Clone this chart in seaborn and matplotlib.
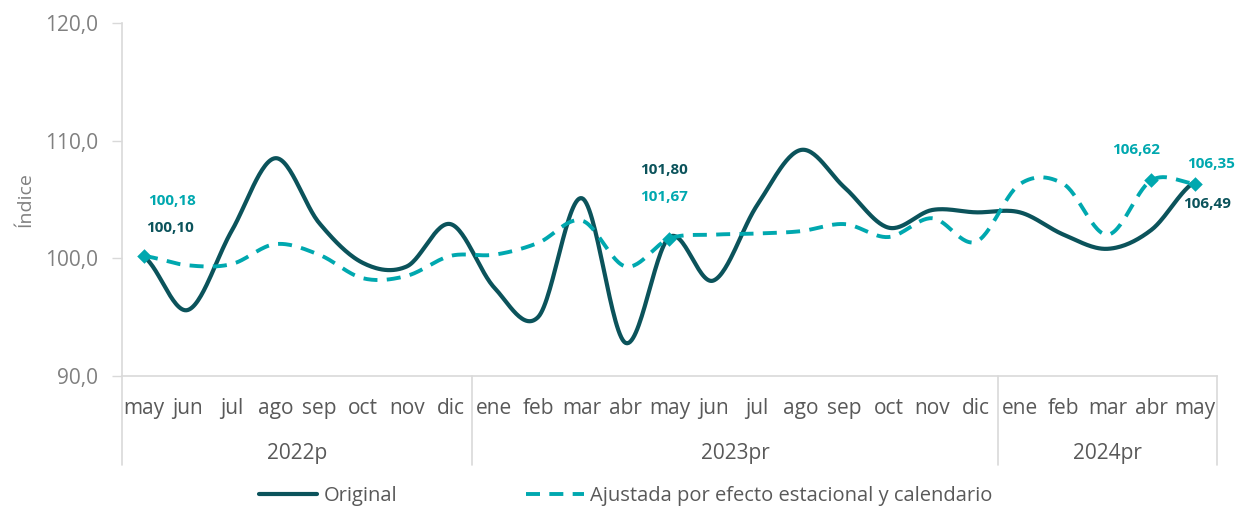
import numpy as np
import pandas as pd
import seaborn as sns
import matplotlib.pyplot as plt
from matplotlib.lines import Line2D
import matplotlib.transforms as mtransforms

# data
months = ['may', 'jun', 'jul', 'ago', 'sep', 'oct', 'nov', 'dic',
          'ene', 'feb', 'mar', 'abr', 'may', 'jun', 'jul', 'ago', 'sep', 'oct', 'nov', 'dic',
          'ene', 'feb', 'mar', 'abr', 'may']
years = ['2022p', '2023pr', '2024pr']
year_counts = [8, 12, 5]
original = [100.10, 95.6, 102.3, 108.5, 103.0, 99.6, 99.3, 102.9, 97.5, 95.0, 105.1, 92.8,
            101.80, 98.1, 104.5, 109.2, 106.0, 102.6, 104.1, 103.9, 103.9, 102.0, 100.8, 102.4, 106.49]
ajustada = [100.18, 99.4, 99.5, 101.2, 100.3, 98.3, 98.5, 100.2, 100.3, 101.3, 103.2, 99.3,
            101.67, 102.0, 102.1, 102.3, 102.9, 101.8, 103.4, 101.4, 106.3, 106.3, 102.0, 106.62, 106.35]
# points that carry a label / marker
label_idx = [0, 12, 23, 24]

DARK = '#0B535B'
TEAL = '#00A8AF'
GREY = '#595959'
LIGHTGREY = '#808080'
LINE = '#D9D9D9'


def smooth(y, n=30):
    # catmull-rom curve through the points, like excel's smoothed line
    y = np.asarray(y, dtype=float)
    p = np.concatenate([[y[0]], y, [y[-1]]])
    xs, ys = [], []
    for i in range(len(y) - 1):
        p0, p1, p2, p3 = p[i], p[i + 1], p[i + 2], p[i + 3]
        m1 = (p2 - p0) / 2
        m2 = (p3 - p1) / 2
        t = np.linspace(0, 1, n, endpoint=False)
        h00 = 2 * t**3 - 3 * t**2 + 1
        h10 = t**3 - 2 * t**2 + t
        h01 = -2 * t**3 + 3 * t**2
        h11 = t**3 - t**2
        xs.append(i + t)
        ys.append(h00 * p1 + h10 * m1 + h01 * p2 + h11 * m2)
    xs.append([len(y) - 1])
    ys.append([y[-1]])
    return np.concatenate(xs), np.concatenate(ys)


sns.set_theme(style='white')
plt.rcParams['font.family'] = ['Open Sans', 'DejaVu Sans']

fig = plt.figure(figsize=(12.39, 5.08), dpi=100)
ax = fig.add_axes([0.0985, 0.260, 0.8837, 0.695])

xo, yo = smooth(original)
xa, ya = smooth(ajustada)
sns.lineplot(x=xo, y=yo, ax=ax, color=DARK, lw=3.0, sort=False)
sns.lineplot(x=xa, y=ya, ax=ax, color=TEAL, lw=2.8, sort=False, dashes=False)
ax.lines[-1].set_dashes([3.6, 2.4])

x_pts = np.arange(len(months))
ax.scatter(x_pts[label_idx], np.array(ajustada)[label_idx], marker='D', s=55,
           color=TEAL, zorder=5, linewidths=0)

# data labels
lab = dict(fontsize=11, fontweight='bold', ha='center', va='center',
           textcoords='offset pixels')


def fmt(v):
    return f'{v:.2f}'.replace('.', ',')


ax.annotate(fmt(ajustada[0]), (0, ajustada[0]), xytext=(28, 55), color=TEAL, **lab)
ax.annotate(fmt(original[0]), (0, original[0]), xytext=(26, 29), color=DARK, **lab)
ax.annotate(fmt(original[12]), (12, original[12]), xytext=(-5, 67), color=DARK, **lab)
ax.annotate(fmt(ajustada[12]), (12, ajustada[12]), xytext=(-5, 42), color=TEAL, **lab)
ax.annotate(fmt(ajustada[23]), (23, ajustada[23]), xytext=(-15, 30), color=TEAL, **lab)
ax.annotate(fmt(ajustada[24]), (24, ajustada[24]), xytext=(16, 20), color=TEAL, **lab)
ax.annotate(fmt(original[24]), (24, original[24]), xytext=(12, -22), color=DARK, **lab)

ax.set_xlim(-0.5, len(months) - 0.5)
ax.set_ylim(90, 120)
ax.set_yticks([90, 100, 110, 120])
ax.set_yticklabels([f'{v:.1f}'.replace('.', ',') for v in [90, 100, 110, 120]],
                   fontsize=15, color=LIGHTGREY)
ax.set_xticks(x_pts)
ax.set_xticklabels(months, fontsize=15, color=GREY)
ax.tick_params(axis='x', length=0, pad=16)
ax.tick_params(axis='y', length=7, width=1, color=LINE, pad=10, left=True)
ax.set_ylabel('Índice', fontsize=14, color=LIGHTGREY, labelpad=8)

for s in ['top', 'right']:
    ax.spines[s].set_visible(False)
for s in ['left', 'bottom']:
    ax.spines[s].set_color(LINE)
    ax.spines[s].set_linewidth(1.2)

# year group separators and labels
trans = mtransforms.blended_transform_factory(ax.transData, ax.transAxes)
edges = np.concatenate([[0], np.cumsum(year_counts)]) - 0.5
for e in edges:
    ax.add_line(Line2D([e, e], [0, -0.252], transform=trans, color=LINE, lw=1.2, clip_on=False))
for yr, a, b in zip(years, edges[:-1], edges[1:]):
    ax.text((a + b) / 2, -0.22, yr, transform=trans, ha='center', va='center',
            fontsize=15, color=GREY)

handles = [Line2D([], [], color=DARK, lw=3.0),
           Line2D([], [], color=TEAL, lw=2.8, dashes=[3.6, 2.4])]
fig.legend(handles, ['Original', 'Ajustada por efecto estacional y calendario'],
           loc='center', bbox_to_anchor=(0.505, 0.024), ncol=2, frameon=False,
           fontsize=14.5, labelcolor=GREY, handlelength=2.9, columnspacing=6.4, handletextpad=0.3)

fig.savefig('out.png', dpi=100)
